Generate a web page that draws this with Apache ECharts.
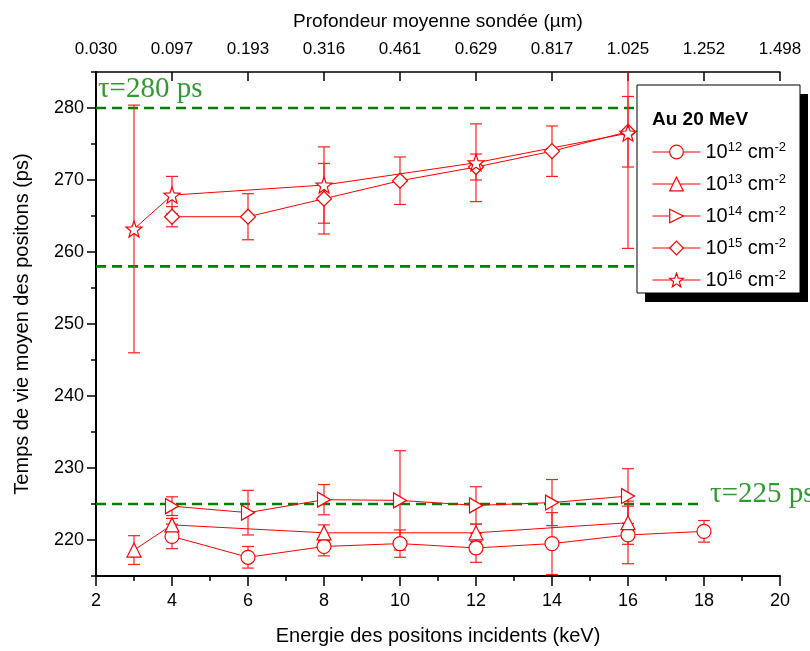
<!DOCTYPE html>
<html><head><meta charset="utf-8">
<script src="https://cdn.jsdelivr.net/npm/echarts@6/dist/echarts.min.js"></script>
<style>html,body{margin:0;padding:0;background:#fff}#c{width:810px;height:651px}</style>
</head><body><div id="c"></div>
<script>
// ---- data ----
const depthLabels = ['0.030','0.097','0.193','0.316','0.461','0.629','0.817','1.025','1.252','1.498'];

const x_e12 = [4, 6, 8, 10, 12, 14, 16, 18];
const y_e12 = [220.5, 217.6, 219.1, 219.5, 218.9, 219.5, 220.7, 221.2];
const err_e12 = [1.7, 1.5, 1.3, 1.9, 2.0, 4.3, 4.0, 1.5];

const x_e13 = [3, 4, 8, 12, 16];
const y_e13 = [218.6, 222.1, 221.0, 221.0, 222.4];
const err_e13 = [2.0, 0.9, 1.1, 1.2, 3.0];

const x_e14 = [4, 6, 8, 10, 12, 14, 16];
const y_e14 = [224.7, 223.8, 225.6, 225.5, 224.8, 225.2, 226.1];
const err_e14 = [1.3, 3.1, 2.1, 6.9, 2.6, 3.2, 3.8];

const x_e15 = [4, 6, 8, 10, 12, 14, 16];
const y_e15 = [264.9, 264.9, 267.4, 269.9, 271.8, 274.0, 276.7];
const err_e15 = [1.4, 3.2, 4.9, 3.3, 1.8, 3.5, 4.9];

const x_e16 = [3, 4, 8, 12, 16];
const y_e16 = [263.2, 267.9, 269.3, 272.4, 276.5];
const err_e16 = [17.2, 2.6, 5.3, 5.4, 16.0];

const refLevels = [280, 258, 225];
const refLabels = ['τ=280 ps', 'τ=258 ps', 'τ=225 ps'];
const seriesNames = ['e12', 'e13', 'e14', 'e15', 'e16'];
const exponents = ['12', '13', '14', '15', '16'];

// ---- build ----
const SANS = 'Liberation Sans';
const SERIF = 'Liberation Serif';
const RED = '#ff0000';
const GREEN = '#008000';

function starPath() {
  let d = '';
  for (let i = 0; i < 10; i++) {
    const r = i % 2 ? 0.42 : 1;
    const a = -Math.PI / 2 + i * Math.PI / 5;
    d += (i ? 'L' : 'M') + (50 + 50 * r * Math.cos(a)).toFixed(2) + ',' + (50 + 50 * r * Math.sin(a)).toFixed(2);
  }
  return 'path://' + d + 'Z';
}
const symbols = ['circle', 'triangle', 'path://M0,0L10,5L0,10Z', 'diamond', starPath()];
const sizes = [14, 14, [13, 15], [15, 15], 16];

const xs = [x_e12, x_e13, x_e14, x_e15, x_e16];
const ys = [y_e12, y_e13, y_e14, y_e15, y_e16];
const es = [err_e12, err_e13, err_e14, err_e15, err_e16];

function errRender(params, api) {
  const x = api.value(0), y = api.value(1), e = api.value(2);
  const t = api.coord([x, y + e]), b = api.coord([x, y - e]);
  const hw = 6;
  const st = { stroke: '#ff2020', lineWidth: 1.2 };
  return { type: 'group', children: [
    { type: 'line', shape: { x1: t[0], y1: t[1], x2: b[0], y2: b[1] }, style: st },
    { type: 'line', shape: { x1: t[0] - hw, y1: t[1], x2: t[0] + hw, y2: t[1] }, style: st },
    { type: 'line', shape: { x1: b[0] - hw, y1: b[1], x2: b[0] + hw, y2: b[1] }, style: st }
  ]};
}

const series = [];
// reference dashed lines
const refEnds = [20, 20, 17.87];
refLevels.forEach((lv, i) => {
  series.push({
    type: 'line', silent: true, symbol: 'none', z: 1,
    data: [[2, lv], [refEnds[i], lv]],
    lineStyle: { color: GREEN, width: 2.6, type: [10, 6] }
  });
});
series.push({
  type: 'scatter', silent: true, symbolSize: 0, z: 1,
  data: [[2.05, 282.6, refLabels[0]], [18.0, 256.3, refLabels[1]], [18.16, 226.4, refLabels[2]]],
  label: { show: true, position: 'right', distance: 0, formatter: p => p.value[2],
    fontFamily: SERIF, fontSize: 29, color: GREEN }
});
// error bars
xs.forEach((xa, i) => {
  series.push({
    type: 'custom', silent: true, z: 2, clip: true,
    renderItem: errRender,
    encode: { x: 0, y: 1 },
    data: xa.map((x, j) => [x, ys[i][j], es[i][j]])
  });
});
// data series
xs.forEach((xa, i) => {
  series.push({
    name: seriesNames[i], type: 'line', z: 3,
    data: xa.map((x, j) => [x, ys[i][j]]),
    symbol: symbols[i], symbolSize: sizes[i],
    lineStyle: { color: RED, width: 1 },
    itemStyle: { color: '#fff', borderColor: RED, borderWidth: 1.2 }
  });
});

const chart = echarts.init(document.getElementById('c'));
chart.setOption({
  animation: false,
  backgroundColor: '#fff',
  grid: { left: 96, right: 30, top: 72, bottom: 75 },
  xAxis: [
    { type: 'value', min: 2, max: 20, interval: 2, position: 'bottom',
      name: 'Energie des positons incidents (keV)', nameLocation: 'middle', nameGap: 50,
      nameTextStyle: { fontFamily: SANS, fontSize: 20, color: '#000' },
      axisLine: { lineStyle: { color: '#000', width: 2 } },
      axisTick: { length: 10, lineStyle: { color: '#000', width: 1.5 } },
      minorTick: { show: true, splitNumber: 2, length: 5, lineStyle: { color: '#000', width: 1.5 } },
      axisLabel: { fontFamily: SANS, fontSize: 18, color: '#000', margin: 16 },
      splitLine: { show: false } },
    { type: 'value', min: 2, max: 20, interval: 2, position: 'top',
      name: 'Profondeur moyenne sondée (µm)', nameLocation: 'middle', nameGap: 41,
      nameTextStyle: { fontFamily: SANS, fontSize: 19, color: '#000' },
      axisLine: { lineStyle: { color: '#000', width: 1.5 } },
      axisTick: { inside: true, length: 9, lineStyle: { color: '#000', width: 1.5 } },
      axisLabel: { fontFamily: SANS, fontSize: 17, color: '#000', margin: 14,
        formatter: v => depthLabels[Math.round((v - 2) / 2)] },
      splitLine: { show: false } }
  ],
  yAxis: [
    { type: 'value', min: 215, max: 285, interval: 5, position: 'left',
      name: 'Temps de vie moyen des positons (ps)', nameLocation: 'middle', nameGap: 64,
      nameTextStyle: { fontFamily: SANS, fontSize: 20, color: '#000' },
      axisLine: { show: true, lineStyle: { color: '#000', width: 2 } },
      axisTick: { length: 5, lineStyle: { color: '#000', width: 1.5 } },
      axisLabel: { show: false }, splitLine: { show: false } },
    { type: 'value', min: 215, max: 285, splitNumber: 7, position: 'left',
      axisLine: { show: false },
      axisTick: { length: 9, lineStyle: { color: '#000', width: 1.5 } },
      axisLabel: { fontFamily: SANS, fontSize: 18, color: '#000', margin: 12,
        showMinLabel: false, showMaxLabel: false,
        formatter: v => (v % 10 === 0 ? String(v) : '') },
      splitLine: { show: false } }
  ],
  legend: {
    data: seriesNames, orient: 'vertical', left: 652, top: 141, z: 10,
    itemWidth: 48, itemHeight: 17, itemGap: 10, padding: 0,
    lineStyle: { width: 1 },
    itemStyle: { borderWidth: 1.2 },
    formatter: n => '10{sup|' + exponents[seriesNames.indexOf(n)] + '} cm{sup|-2}',
    textStyle: { fontFamily: SANS, fontSize: 20, color: '#000', lineHeight: 22,
      rich: { sup: { fontFamily: SANS, fontSize: 13, lineHeight: 12, verticalAlign: 'top', color: '#000' } } }
  },
  graphic: [
    { type: 'rect', z: 5, shape: { x: 645, y: 94, width: 163, height: 208 }, style: { fill: '#000' } },
    { type: 'rect', z: 6, shape: { x: 637, y: 85, width: 163, height: 208 }, style: { fill: '#fff', stroke: '#000', lineWidth: 1 } },
    { type: 'text', z: 11, x: 652, y: 120, style: { text: 'Au 20 MeV', fontFamily: SANS, fontWeight: 'bold', fontSize: 19, fill: '#000', verticalAlign: 'middle' } }
  ],
  series: series
});
</script></body></html>
